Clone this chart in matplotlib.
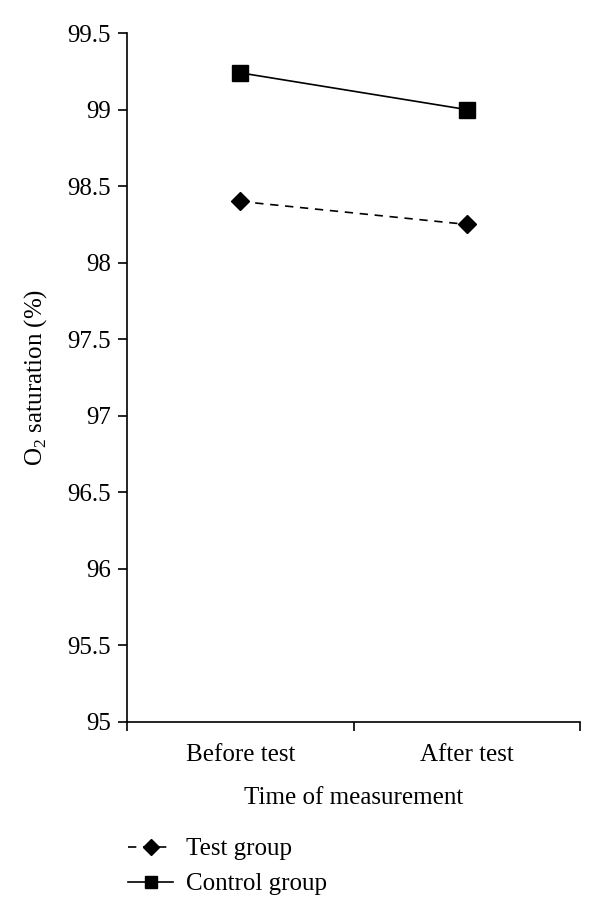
import matplotlib
matplotlib.use("Agg")
import matplotlib.pyplot as plt

# data
categories = ["Before test", "After test"]
test_group = [98.4, 98.25]
control_group = [99.24, 99.0]
y_ticks = [95, 95.5, 96, 96.5, 97, 97.5, 98, 98.5, 99, 99.5]
y_tick_labels = ["95", "95.5", "96", "96.5", "97", "97.5", "98", "98.5", "99", "99.5"]

plt.rcParams['font.family'] = ['Liberation Serif', 'DejaVu Serif']
plt.rcParams['mathtext.fontset'] = 'custom'
plt.rcParams['mathtext.rm'] = 'Liberation Serif'

fig = plt.figure(figsize=(6, 9.23), dpi=100)
ax = fig.add_axes([0.2117, 0.2178, 0.755, 0.7464])

x = list(range(len(categories)))
ax.plot(x, test_group, color='black', linestyle=(0, (5, 4)), linewidth=1.2,
        marker='D', markersize=9, label='Test group')
ax.plot(x, control_group, color='black', linestyle='-', linewidth=1.2,
        marker='s', markersize=11, label='Control group')

ax.set_xlim(-0.5, len(categories) - 0.5)
ax.set_ylim(95, 99.5)
ax.set_yticks(y_ticks)
ax.set_yticklabels(y_tick_labels)

# category boundaries carry the tick marks, labels sit in between
ax.set_xticks([i - 0.5 for i in range(len(categories) + 1)])
ax.set_xticklabels([])
ax.set_xticks(x, minor=True)
ax.set_xticklabels(categories, minor=True)
ax.tick_params(axis='x', which='minor', length=0, pad=16, labelsize=18)
ax.tick_params(axis='x', which='major', length=6.5, width=1.2, direction='out')
ax.tick_params(axis='y', length=6.5, width=1.2, direction='out', labelsize=18, pad=5)

for side in ['top', 'right']:
    ax.spines[side].set_visible(False)
for side in ['left', 'bottom']:
    ax.spines[side].set_linewidth(1.2)

ax.set_xlabel("Time of measurement", fontsize=18, labelpad=15)
ax.set_ylabel("O$_2$ saturation (%)", fontsize=18, labelpad=13)

fig.legend(loc='upper left', bbox_to_anchor=(0.197, 0.103), frameon=False,
           fontsize=18, handlelength=1.8, handletextpad=0.5, labelspacing=0.5,
           borderaxespad=0, markerscale=0.85)

fig.savefig("out.png", dpi=100)
